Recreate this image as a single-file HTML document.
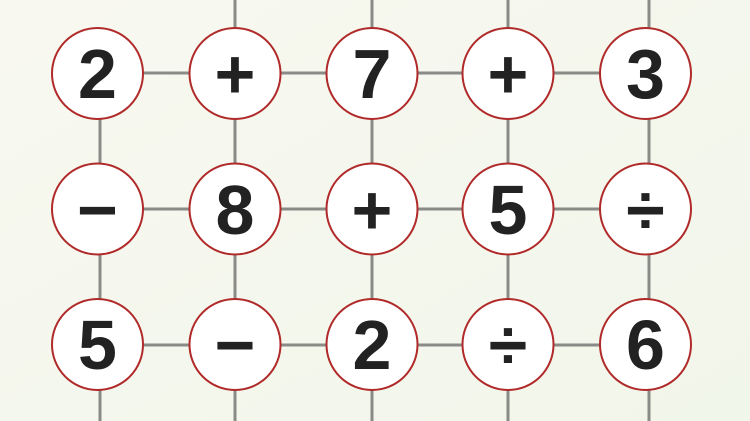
<!DOCTYPE html>
<html><head><style>
html,body{margin:0;padding:0;width:750px;height:421px;overflow:hidden;background:#f5f7ee}
</style></head><body>
<svg width="750" height="421" xmlns="http://www.w3.org/2000/svg">
<defs><linearGradient id="bg" x1="0" y1="0" x2="1" y2="1"><stop offset="0" stop-color="#f8f8f0"/><stop offset="1" stop-color="#f1f6ea"/></linearGradient></defs>
<rect width="750" height="421" fill="url(#bg)"/>
<g stroke="#8a8a86" stroke-width="3">
<line x1="97" y1="73" x2="645" y2="73"/>
<line x1="97" y1="209" x2="645" y2="209"/>
<line x1="97" y1="345" x2="645" y2="345"/>
<line x1="235" y1="0" x2="235" y2="421"/>
<line x1="372" y1="0" x2="372" y2="421"/>
<line x1="508" y1="0" x2="508" y2="421"/>
<line x1="649" y1="0" x2="649" y2="421"/>
<line x1="100" y1="73" x2="100" y2="421"/>
</g>
<g fill="#fff" stroke="#b02a2a" stroke-width="2">
<circle cx="97.5" cy="73.5" r="45.5"/><circle cx="235" cy="73.5" r="45.5"/><circle cx="372" cy="73.5" r="45.5"/><circle cx="508" cy="73.5" r="45.5"/><circle cx="645.5" cy="73.5" r="45.5"/>
<circle cx="97.5" cy="209" r="45.5"/><circle cx="235" cy="209" r="45.5"/><circle cx="372" cy="209" r="45.5"/><circle cx="508" cy="209" r="45.5"/><circle cx="645.5" cy="209" r="45.5"/>
<circle cx="97.5" cy="344.5" r="45.5"/><circle cx="235" cy="344.5" r="45.5"/><circle cx="372" cy="344.5" r="45.5"/><circle cx="508" cy="344.5" r="45.5"/><circle cx="645.5" cy="344.5" r="45.5"/>
</g>
<g font-family="Liberation Sans, sans-serif" font-weight="bold" font-size="70" fill="#222" text-anchor="middle">
<text x="97.5" y="98">2</text><text x="235" y="98">+</text><text x="372" y="98">7</text><text x="508" y="98">+</text><text x="645.5" y="98">3</text>
<text x="97.5" y="234">−</text><text x="235" y="234">8</text><text x="372" y="234">+</text><text x="508" y="234">5</text><text x="645.5" y="234">÷</text>
<text x="97.5" y="369">5</text><text x="235" y="369">−</text><text x="372" y="369">2</text><text x="508" y="369">÷</text><text x="645.5" y="369">6</text>
</g>
</svg>
</body></html>
